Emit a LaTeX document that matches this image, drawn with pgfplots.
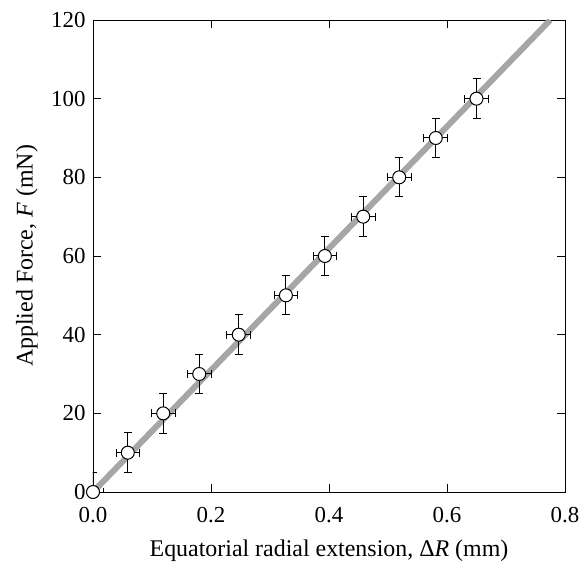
\documentclass[border=0pt]{standalone}
\usepackage{pgfplots}
\pgfplotsset{compat=1.18}
\usepackage{fontspec}
\setmainfont{Liberation Serif}
\begin{document}
\begin{tikzpicture}
\begin{axis}[
  scale only axis,
  width=472bp, height=472bp,
  xmin=0, xmax=0.8, ymin=0, ymax=120,
  xtick={0,0.2,0.4,0.6,0.8},
  ytick={0,20,40,60,80,100,120},
  /pgf/number format/assume math mode=true,
  xticklabel={\pgfmathprintnumber[fixed,fixed zerofill,precision=1]{\tick}},
  yticklabel={\pgfmathprintnumber{\tick}},
  tick align=inside,
  major tick length=8bp,
  tick style={black, line width=0.9bp},
  axis line style={black, line width=0.9bp},
  ticklabel style={font=\fontsize{23}{27}\selectfont},
  xticklabel style={yshift=-12bp},
  yticklabel style={xshift=-4bp},
  label style={font=\fontsize{24}{28}\selectfont},
  xlabel={Equatorial radial extension, Δ\textit{R} (mm)},
  ylabel={Applied Force, \textit{F} (mN)},
  xlabel style={at={([yshift=-59bp]axis description cs:0.5,0)}, anchor=center},
  ylabel style={at={([xshift=-66bp]axis description cs:0,0.5)}, anchor=center},
]
\addplot[color={rgb,255:red,166;green,166;blue,166}, line width=6bp, no marks] coordinates {(0,0) (0.775,120)};
\addplot[
  only marks, mark=*, mark size=6.5bp,
  mark options={fill=white, draw=black, line width=1bp},
  error bars/.cd,
  x dir=both, x explicit, y dir=both, y explicit,
  error bar style={black, line width=1bp},
  error mark options={rotate=90, mark size=4bp, black, line width=1bp},
] table[x=x, y=y, x error=ex, y error=ey] {
x      y    ex    ey
0.000  0    0.018 5
0.059  10   0.020 5
0.119  20   0.020 5
0.180  30   0.020 5
0.247  40   0.020 5
0.327  50   0.020 5
0.393  60   0.020 5
0.458  70   0.020 5
0.519  80   0.020 5
0.581  90   0.020 5
0.650  100  0.020 5
};
\end{axis}
\pgfresetboundingbox
\path ([shift={(-93bp,-72bp)}]current axis.south west) rectangle ([shift={(14bp,20bp)}]current axis.north east);
\end{tikzpicture}
\end{document}
